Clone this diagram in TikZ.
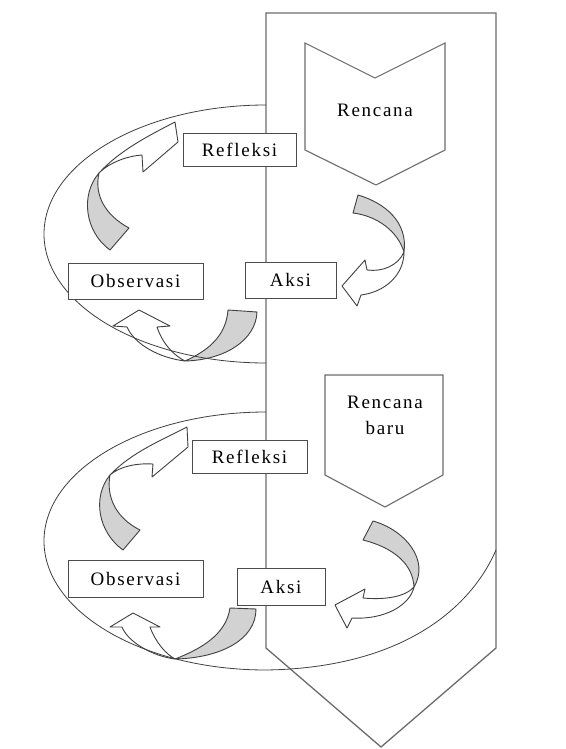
\documentclass[tikz,border=0pt]{standalone}
\usepackage{fontspec}
\setmainfont{Liberation Serif}[LetterSpace=9]
\begin{document}
\begin{tikzpicture}[x=1pt,y=-1pt]
\tikzset{
  frame/.style={draw=gray!85!black, line width=1.3pt, fill=white},
  loopline/.style={draw=gray!50!black, line width=0.8pt},
  under/.style={draw=gray!50!black, line width=0.9pt, fill=gray!35, line join=round},
  over/.style={draw=gray!50!black, line width=0.9pt, fill=white, line join=round},
  stage/.style={draw=gray!60!black, line width=1pt, fill=white, inner sep=0pt,
    font=\fontsize{19}{22}\selectfont},
  word/.style={font=\fontsize{19}{26}\selectfont, align=center, inner sep=0pt}
}
\fill[white] (0,0) rectangle (565,749);

% big arrow
\draw[frame] (266,13) -- (496,13) -- (496,648) -- (381,747) -- (266,648) -- cycle;

% plan shapes
\draw[frame, line width=1.1pt] (305,43) -- (375,78) -- (445,43) -- (445,150) -- (376,185) -- (305,150) -- cycle;
\node[word] (renc1) at (375,110) {Rencana};
\draw[frame, line width=1.1pt] (325,375) -- (443,375) -- (443,475) -- (385,507) -- (325,475) -- cycle;
\node[word] (renc2) at (385,415) {Rencana\\baru};

% first cycle: plan -> action
\draw[under] (358,195) .. controls (385,203) and (408,222) .. (404,252)
  .. controls (398,232) and (378,216) .. (353,213) -- cycle;
\draw[over] (404,252) .. controls (398,266) and (382,272) .. (367,270) -- (365,260) -- (342,286)
  -- (357,306) -- (361,295) .. controls (385,292) and (404,275) .. (404,252) -- cycle;
% action -> observation
\draw[under] (228,310) -- (257,312) .. controls (256,340) and (225,360) .. (185,361)
  .. controls (205,352) and (226,338) .. (228,310) -- cycle;
\draw[over] (185,361) .. controls (160,358) and (135,345) .. (127,327) -- (113,326) -- (139,310)
  -- (170,326) -- (157,327) .. controls (163,345) and (175,356) .. (185,361) -- cycle;
% observation -> reflection
\draw[under] (110,250) .. controls (85,232) and (80,195) .. (99,173)
  .. controls (94,195) and (105,215) .. (129,228) -- cycle;
\draw[over] (99,173) .. controls (120,150) and (150,135) .. (175,122) -- (178,142) -- (143,172)
  -- (142,155) .. controls (128,156) and (110,162) .. (99,173) -- cycle;

% second cycle: plan -> action
\draw[under] (373,521) .. controls (405,530) and (430,560) .. (414,587)
  .. controls (413,565) and (395,548) .. (363,540) -- cycle;
\draw[over] (414,587) .. controls (405,597) and (385,600) .. (363,598) -- (365,589) -- (335,605)
  -- (347,628) -- (352,618) .. controls (385,620) and (410,605) .. (414,587) -- cycle;
% action -> observation
\draw[under] (230,608) -- (256,609) .. controls (256,640) and (220,658) .. (175,659)
  .. controls (198,650) and (226,636) .. (230,608) -- cycle;
\draw[over] (175,659) .. controls (152,656) and (128,642) .. (122,627) -- (110,627) -- (133,613)
  -- (160,627) -- (150,627) .. controls (156,643) and (166,654) .. (175,659) -- cycle;
% observation -> reflection
\draw[under] (123,550) .. controls (98,532) and (92,497) .. (110,475)
  .. controls (106,497) and (116,518) .. (140,530) -- cycle;
\draw[over] (110,475) .. controls (132,452) and (162,440) .. (187,427) -- (188,447) -- (152,477)
  -- (153,464) .. controls (138,463) and (120,466) .. (110,475) -- cycle;

% loops
\draw[loopline] (266,105) arc[start angle=90, end angle=270, x radius=222pt, y radius=129pt];
\draw[loopline] (266,412) arc[start angle=90, end angle=270, x radius=222pt, y radius=129pt]
  .. controls (400,668) and (470,610) .. (496,550);

% stages
\node[stage, minimum width=113pt, minimum height=33pt] (refl1) at (239.5,149.5) {Refleksi};
\node[stage, minimum width=135pt, minimum height=36pt] (obs1) at (135.5,281) {Observasi};
\node[stage, minimum width=91pt, minimum height=36pt] (aksi1) at (290.5,280) {Aksi};
\node[stage, minimum width=115pt, minimum height=33pt] (refl2) at (249.5,456.5) {Refleksi};
\node[stage, minimum width=135pt, minimum height=37pt] (obs2) at (135.5,578.5) {Observasi};
\node[stage, minimum width=88pt, minimum height=37pt] (aksi2) at (281,586.5) {Aksi};
\end{tikzpicture}
\end{document}
